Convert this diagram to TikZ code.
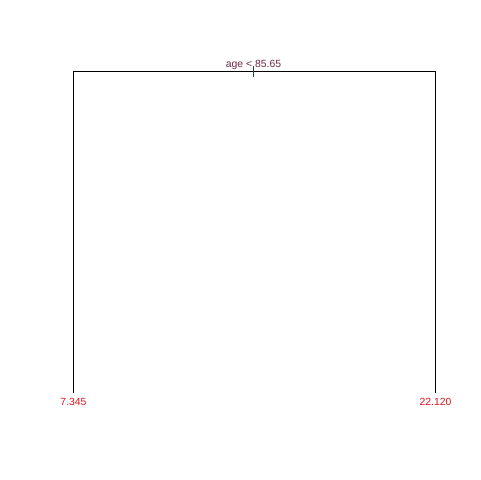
\documentclass[tikz,border=0pt]{standalone}
\usepackage{fontspec}
\setmainfont{Liberation Sans}
\definecolor{lbl}{RGB}{220,20,30}
\definecolor{toplbl}{RGB}{110,40,70}
\definecolor{tickc}{RGB}{20,80,60}
\begin{document}
\begin{tikzpicture}[x=0.75pt,y=-0.75pt,
  branch/.style={draw=black,line width=0.75pt},
  leaflbl/.style={text=lbl,font=\fontsize{7.8}{9}\selectfont,inner sep=0pt},
  splitlbl/.style={text=toplbl,font=\fontsize{7.8}{9}\selectfont,inner sep=0pt,anchor=base}]
\useasboundingbox (0,0) rectangle (480,480);
\coordinate (root) at (253.5,71.5);
\coordinate (lt) at (73.5,71.5);
\coordinate (rt) at (435.5,71.5);
\coordinate (lb) at (73.5,393);
\coordinate (rb) at (435.5,393);
\coordinate (tk1) at (253.5,66);
\coordinate (tk2) at (253.5,77);
\draw[branch] (lb) -- (lt) -- (rt) -- (rb);
\draw[draw=tickc,line width=0.75pt] (tk1) -- (tk2);
\node[splitlbl] (split) at (253.5,67) {age < 85.65};
\node[leaflbl] (leafL) at (73.5,402) {7.345};
\node[leaflbl] (leafR) at (435.5,402) {22.120};
\end{tikzpicture}
\end{document}
